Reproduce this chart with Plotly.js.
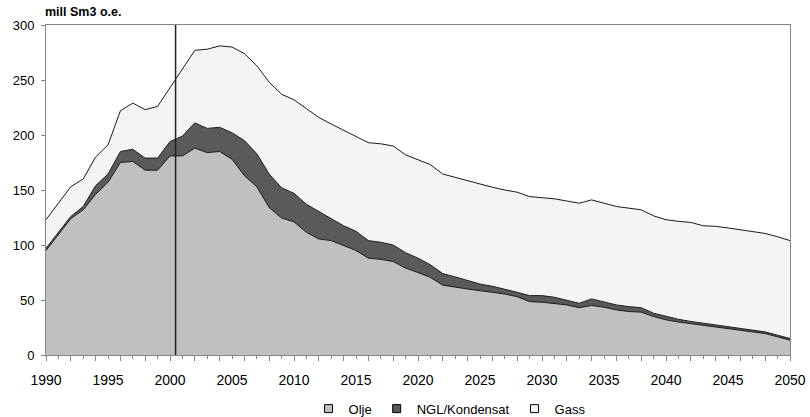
<!DOCTYPE html>
<html>
<head>
<meta charset="utf-8">
<script src="https://cdn.plot.ly/plotly-3.0.1.min.js"></script>
<style>html,body{margin:0;padding:0;background:#fff;}</style>
</head>
<body>
<div id="chart" style="width:810px;height:417px;"></div>
<script>
const years = [];
for (let y = 1990; y <= 2050; y++) years.push(y);

const olje = [95,109,124,132,146,157,175,176,168,168,
  181,181,188,184,185,178,163,153,134,124.5,
  121,111.5,105.5,104,99.5,95,88,87,85,79,
  75,70.5,63.5,61.5,60,58.5,57,55.5,53,48.5,
  48,47,45.5,43,45,43.5,41,39.5,39,35,
  32,30,28.5,27,26,24.5,23,21.5,19.5,16.5,13.5];

const ngl = [2,2.5,2,3,8,7.5,10,11,11,11,
  13,18,23,22,22,24,32,30,30.5,27.5,
  26,25.5,25,19.5,18,17.5,16,15.5,15,14,
  13,11.5,10.5,9.5,8,6,5.5,4.5,4,5.5,
  6,5.5,4,4,6,5,4.5,4.5,4,3,
  3,2.5,2,2,1.5,1.5,1.5,1.5,1.5,1.5,1.5];

const gass = [26,26.5,27,25,26,26.5,37,42,44,47,
  49,62,66,72,74,78,79,80,83.5,85,
  85,87,85.5,86.5,87,86,89,89.5,90,89,
  89.5,91,90.5,90.5,90.5,90.5,90,90,91,90,
  89,89.5,90.5,91,90,89.5,89.5,89.5,89,88.5,
  88,89,90,88.5,89.5,89.5,89.5,89.5,89.5,89.5,89];

const seriesNames = ['Olje', 'NGL/Kondensat', 'Gass'];
const yTicks = [0, 50, 100, 150, 200, 250, 300];
const xLabelYears = [1990,1995,2000,2005,2010,2015,2020,2025,2030,2035,2040,2045,2050];
const majorTickYears = years.filter(y => y % 2 === 0);
const dividerYear = 2000.45;
const yUnit = 'mill Sm3 o.e.';

const fillColors = ['#c0c0c0', '#5a5a5a', '#f4f4f4'];
const lineColor = '#1a1a1a';
const axisColor = '#868686';
const font = 'Liberation Sans, Arial, sans-serif';
const narrowFont = 'Liberation Sans Narrow, Arial Narrow, Liberation Sans, sans-serif';

const data = [olje, ngl, gass].map((vals, i) => ({
  type: 'scatter', mode: 'lines', x: years, y: vals, name: seriesNames[i],
  stackgroup: 'one', fillcolor: fillColors[i], showlegend: false,
  line: {color: lineColor, width: 1, shape: 'linear'},
  hoverinfo: 'x+y+name'
}));

// legend entries drawn as bordered squares
seriesNames.forEach((nm, i) => data.push({
  type: 'scatter', mode: 'markers', x: [null], y: [null], name: nm,
  marker: {symbol: 'square', size: 8, color: fillColors[i], line: {color: '#000', width: 1}},
  hoverinfo: 'skip'
}));

// invisible trace to carry the overlay axis with the longer ticks
data.push({type: 'scatter', mode: 'lines', x: [years[0], years[years.length-1]], y: [0, 0],
  xaxis: 'x2', yaxis: 'y', showlegend: false, hoverinfo: 'skip',
  line: {color: 'rgba(0,0,0,0)', width: 0}});

const layout = {
  width: 810, height: 417,
  margin: {l: 46, r: 20, t: 25, b: 62},
  paper_bgcolor: '#ffffff', plot_bgcolor: '#ffffff',
  font: {family: font, color: '#000'},
  showlegend: true,
  legend: {orientation: 'h', xref: 'container', yref: 'container',
    x: 0.555, xanchor: 'center', y: 0.02, yanchor: 'middle',
    font: {family: narrowFont, size: 13, color: '#000'}, itemwidth: 30, traceorder: 'normal',
    tracegroupgap: 0},
  xaxis: {
    range: [1990, 2050], showgrid: false, zeroline: false, automargin: false,
    showline: true, linecolor: axisColor, linewidth: 1, mirror: true,
    tickmode: 'array', tickvals: years,
    ticktext: years.map(y => xLabelYears.includes(y) ? String(y) : ''),
    ticks: 'outside', ticklen: 3, tickcolor: axisColor, tickwidth: 1,
    ticklabelstandoff: 9,
    tickfont: {family: font, size: 14, color: '#000'}
  },
  xaxis2: {
    overlaying: 'x', anchor: 'y', side: 'bottom', automargin: false,
    range: [1990, 2050], showgrid: false, zeroline: false, showline: false,
    tickmode: 'array', tickvals: majorTickYears, showticklabels: false,
    ticks: 'outside', ticklen: 5, tickcolor: axisColor, tickwidth: 1
  },
  yaxis: {
    range: [0, 300], showgrid: false, zeroline: false, automargin: false,
    showline: true, linecolor: axisColor, linewidth: 1, mirror: true,
    tickmode: 'array', tickvals: yTicks,
    ticks: 'outside', ticklen: 4, tickcolor: axisColor,
    ticklabelstandoff: 4,
    tickfont: {family: font, size: 13, color: '#000'}
  },
  shapes: [{type: 'line', xref: 'x', yref: 'y', x0: dividerYear, x1: dividerYear,
    y0: 0, y1: 300, line: {color: '#222', width: 1.5}}],
  annotations: [{text: '<b>' + yUnit + '</b>', xref: 'paper', yref: 'paper',
    x: -0.004, y: 1.0, xanchor: 'left', yanchor: 'bottom', yshift: 4, showarrow: false,
    font: {family: font, size: 12.5, color: '#000'}}]
};

Plotly.newPlot('chart', data, layout, {displayModeBar: false, staticPlot: true});
</script>
</body>
</html>
